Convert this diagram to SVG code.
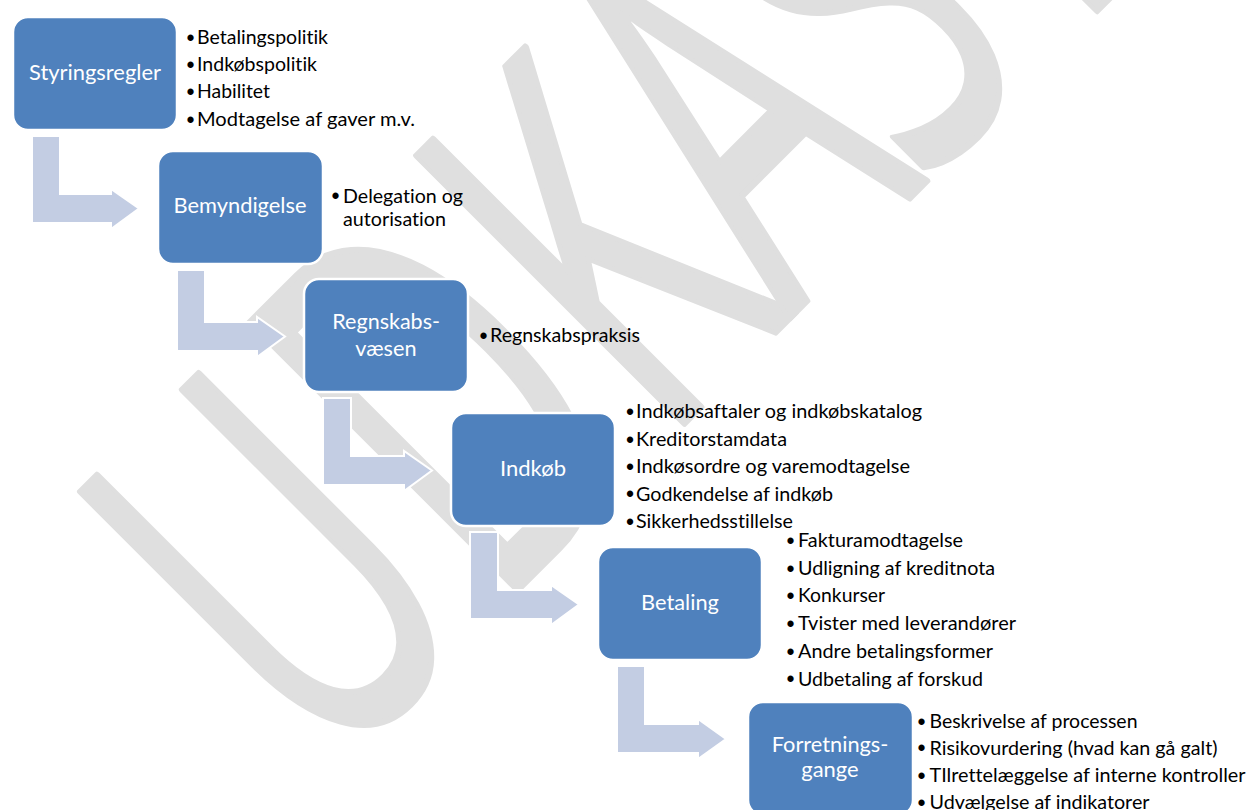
<svg xmlns="http://www.w3.org/2000/svg" width="1250" height="810" viewBox="0 0 1250 810">
<style>
.wm { font-family: "Open Sans", "Noto Sans", sans-serif; font-size: 310px; fill: #dfdfdf; stroke: #dfdfdf; stroke-width: 4; stroke-linejoin: round; }
.box { fill: #4f81bd; stroke: #ffffff; stroke-width: 2.5; }
.lbl { font-family: Lato, "Open Sans", sans-serif; font-size: 21px; fill: #ffffff; font-variant-ligatures: none; }
.arr { fill: #c3cde3; stroke: #ffffff; stroke-width: 2; stroke-linejoin: miter; }
.bt { font-family: Lato, "Open Sans", sans-serif; font-size: 19px; fill: #000000; font-variant-ligatures: none; }
.bu { font-family: "Liberation Sans", Arial, sans-serif; font-size: 23px; fill: #000000; }
</style>
<rect x="0" y="0" width="1250" height="810" fill="#ffffff"/>
<g id="watermark">
<text class="wm" transform="rotate(-45) scale(1,1.71)" x="-207 30 248 431 603 780" y="458" text-anchor="middle">UDKAST</text>
</g>
<g id="connectors">
<polygon class="arr" points="32,136 60,136 60,194 111,194 111,189 139,208.5 111,229 111,223 32,223"/>
<polygon class="arr" points="177,270 205,270 205,322 257,322 257,317 285,336.5 257,357 257,351 177,351"/>
<polygon class="arr" points="323,398 351,398 351,456 404,456 404,451 432,470.5 404,491 404,485 323,485"/>
<polygon class="arr" points="470,532 498,532 498,590 551,590 551,585 579,604.5 551,625 551,619 470,619"/>
<polygon class="arr" points="617,666 645,666 645,724 698,724 698,719 726,739 698,759 698,753 617,753"/>
</g>
<g id="node-styringsregler">
<rect class="box" x="13" y="17" width="164" height="113" rx="15"/>
<text class="lbl" x="29" y="80" textLength="132" lengthAdjust="spacingAndGlyphs">Styringsregler</text>
<text class="bu" x="186.5" y="46.1">•</text><text class="bt" x="197" y="44.3" textLength="131" lengthAdjust="spacingAndGlyphs">Betalingspolitik</text>
<text class="bu" x="186.5" y="73.1">•</text><text class="bt" x="197" y="71.3" textLength="120" lengthAdjust="spacingAndGlyphs">Indkøbspolitik</text>
<text class="bu" x="186.5" y="100.1">•</text><text class="bt" x="197" y="98.3" textLength="73" lengthAdjust="spacingAndGlyphs">Habilitet</text>
<text class="bu" x="186.5" y="127.8">•</text><text class="bt" x="197" y="126" textLength="218" lengthAdjust="spacingAndGlyphs">Modtagelse af gaver m.v.</text>
</g>
<g id="node-bemyndigelse">
<rect class="box" x="158" y="151" width="165" height="113" rx="15"/>
<text class="lbl" x="173.5" y="213.3" textLength="133" lengthAdjust="spacingAndGlyphs">Bemyndigelse</text>
<text class="bu" x="331.5" y="204.3">•</text><text class="bt" x="343" y="202.5" textLength="120" lengthAdjust="spacingAndGlyphs">Delegation og</text>
<text class="bt" x="343" y="226" textLength="103" lengthAdjust="spacingAndGlyphs">autorisation</text>
</g>
<g id="node-regnskabsvaesen">
<rect class="box" x="304" y="279" width="164" height="113" rx="15"/>
<text class="lbl" x="332.3" y="329" textLength="107.7" lengthAdjust="spacingAndGlyphs">Regnskabs-</text>
<text class="lbl" x="355.2" y="356" textLength="61.3" lengthAdjust="spacingAndGlyphs">væsen</text>
<text class="bu" x="479.5" y="343.5">•</text><text class="bt" x="490" y="341.7" textLength="150" lengthAdjust="spacingAndGlyphs">Regnskabspraksis</text>
</g>
<g id="node-indkob">
<rect class="box" x="451" y="413" width="164" height="113" rx="15"/>
<text class="lbl" x="500" y="476" textLength="66" lengthAdjust="spacingAndGlyphs">Indkøb</text>
<text class="bu" x="626" y="419.8">•</text><text class="bt" x="636" y="418" textLength="286" lengthAdjust="spacingAndGlyphs">Indkøbsaftaler og indkøbskatalog</text>
<text class="bu" x="626" y="447.5">•</text><text class="bt" x="636" y="445.7" textLength="151" lengthAdjust="spacingAndGlyphs">Kreditorstamdata</text>
<text class="bu" x="626" y="474.8">•</text><text class="bt" x="636" y="473" textLength="274" lengthAdjust="spacingAndGlyphs">Indkøsordre og varemodtagelse</text>
<text class="bu" x="626" y="502.3">•</text><text class="bt" x="636" y="500.5" textLength="197" lengthAdjust="spacingAndGlyphs">Godkendelse af indkøb</text>
<text class="bu" x="626" y="529.8">•</text><text class="bt" x="636" y="528" textLength="157" lengthAdjust="spacingAndGlyphs">Sikkerhedsstillelse</text>
</g>
<g id="node-betaling">
<rect class="box" x="598" y="547" width="164" height="113" rx="15"/>
<text class="lbl" x="641.1" y="610" textLength="77.8" lengthAdjust="spacingAndGlyphs">Betaling</text>
<text class="bu" x="786.5" y="548.5">•</text><text class="bt" x="798" y="546.7" textLength="165" lengthAdjust="spacingAndGlyphs">Fakturamodtagelse</text>
<text class="bu" x="786.5" y="576.8">•</text><text class="bt" x="798" y="575" textLength="197" lengthAdjust="spacingAndGlyphs">Udligning af kreditnota</text>
<text class="bu" x="786.5" y="604.1">•</text><text class="bt" x="798" y="602.3" textLength="87" lengthAdjust="spacingAndGlyphs">Konkurser</text>
<text class="bu" x="786.5" y="631.8">•</text><text class="bt" x="798" y="630" textLength="218" lengthAdjust="spacingAndGlyphs">Tvister med leverandører</text>
<text class="bu" x="786.5" y="659.5">•</text><text class="bt" x="798" y="657.7" textLength="195" lengthAdjust="spacingAndGlyphs">Andre betalingsformer</text>
<text class="bu" x="786.5" y="687.3">•</text><text class="bt" x="798" y="685.5" textLength="185" lengthAdjust="spacingAndGlyphs">Udbetaling af forskud</text>
</g>
<g id="node-forretningsgange">
<rect class="box" x="748" y="702" width="165" height="113" rx="15"/>
<text class="lbl" x="771.7" y="751.7" textLength="116.7" lengthAdjust="spacingAndGlyphs">Forretnings-</text>
<text class="lbl" x="801.3" y="777" textLength="57.4" lengthAdjust="spacingAndGlyphs">gange</text>
<text class="bu" x="917.5" y="729.5">•</text><text class="bt" x="929.5" y="727.7" textLength="208" lengthAdjust="spacingAndGlyphs">Beskrivelse af processen</text>
<text class="bu" x="917.5" y="756.3">•</text><text class="bt" x="929.5" y="754.5" textLength="288" lengthAdjust="spacingAndGlyphs">Risikovurdering (hvad kan gå galt)</text>
<text class="bu" x="917.5" y="783.8">•</text><text class="bt" x="929.5" y="782" textLength="316" lengthAdjust="spacingAndGlyphs">TIlrettelæggelse af interne kontroller</text>
<text class="bu" x="917.5" y="810.8">•</text><text class="bt" x="929.5" y="809" textLength="220" lengthAdjust="spacingAndGlyphs">Udvælgelse af indikatorer</text>
</g>
</svg>
